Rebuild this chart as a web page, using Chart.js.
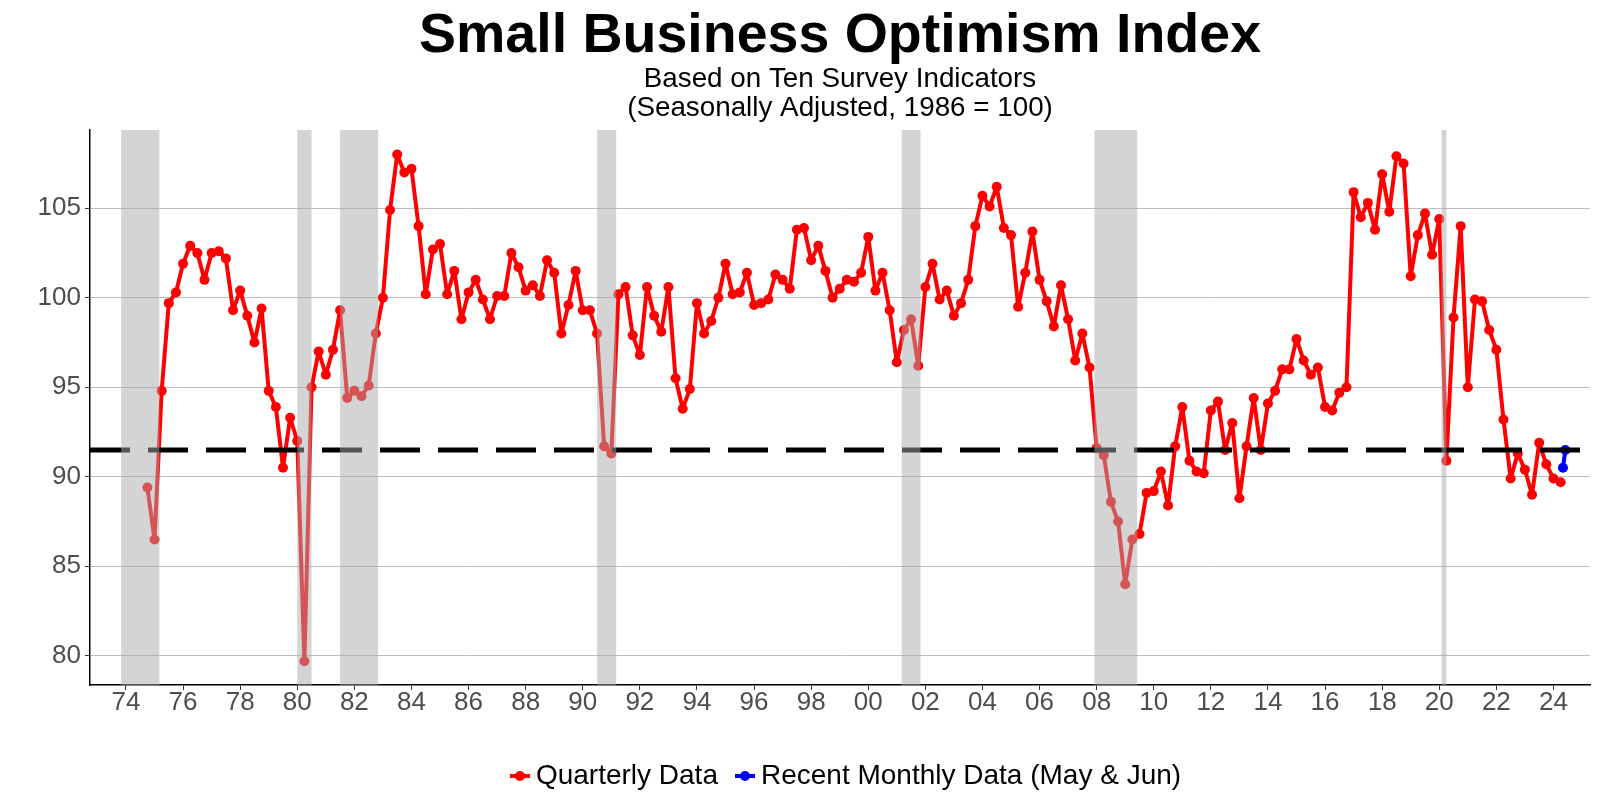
<!DOCTYPE html>
<html>
<head>
<meta charset="utf-8">
<title>Small Business Optimism Index</title>
<script src="https://cdn.jsdelivr.net/npm/chart.js@4.4.1/dist/chart.umd.min.js"></script>
<style>
    html, body { margin: 0; padding: 0; background: #fff; }
</style>
</head>
<body>
<canvas id="optimism-chart" width="1600" height="800"></canvas>
<script>
// Quarterly index readings, first one is 1974 Q4
const firstQuarter = 1974.75;
const q1970s = [89.4, 86.5, 94.8, 99.7, 100.3, 101.9, 102.9, 102.5, 101.0, 102.5, 102.6, 102.2, 99.3,
    100.4, 99.0, 97.5, 99.4, 94.8, 93.9, 90.5, 93.3];
const q1980s = [92.0, 79.7, 95.0, 97.0, 95.7, 97.1, 99.3, 94.4, 94.8, 94.5, 95.1, 98.0,
    100.0, 104.9, 108.0, 107.0, 107.2, 104.0, 100.2, 102.7, 103.0, 100.2, 101.5, 98.8,
    100.3, 101.0, 99.9, 98.8, 100.1, 100.1, 102.5, 101.7, 100.4, 100.7, 100.1, 102.1,
    101.4, 98.0, 99.6, 101.5];
const q1990s = [99.3, 99.3, 98.0, 91.7, 91.3, 100.2, 100.6, 97.9, 96.8, 100.6, 99.0, 98.1,
    100.6, 95.5, 93.8, 94.9, 99.7, 98.0, 98.7, 100.0, 101.9, 100.2, 100.3, 101.4,
    99.6, 99.7, 99.9, 101.3, 101.0, 100.5, 103.8, 103.9, 102.1, 102.9, 101.5, 100.0,
    100.5, 101.0, 100.9, 101.4];
const q2000s = [103.4, 100.4, 101.4, 99.3, 96.4, 98.2, 98.8, 96.2, 100.6, 101.9, 99.9, 100.4,
    99.0, 99.7, 101.0, 104.0, 105.7, 105.1, 106.2, 103.9, 103.5, 99.5, 101.4, 103.7,
    101.0, 99.8, 98.4, 100.7, 98.8, 96.5, 98.0, 96.1, 91.6, 91.2, 88.6, 87.5,
    84.0, 86.5, 86.8, 89.1];
const q2010s = [89.2, 90.3, 88.4, 91.7, 93.9, 90.9, 90.3, 90.2, 93.7, 94.2, 91.5, 93.0,
    88.8, 91.7, 94.4, 91.5, 94.1, 94.8, 96.0, 96.0, 97.7, 96.5, 95.7, 96.1,
    93.9, 93.7, 94.7, 95.0, 105.9, 104.5, 105.3, 103.8, 106.9, 104.8, 107.9, 107.5,
    101.2, 103.5, 104.7, 102.4];
const q2020s = [104.4, 90.9, 98.9, 104.0, 95.0, 99.9, 99.8, 98.2, 97.1, 93.2, 89.9, 91.3,
    90.4, 89.0, 91.9, 90.7, 89.9, 89.7];

// Recent monthly readings (May & Jun 2024)
const monthlyDates = [2024 + 4 / 12, 2024 + 5 / 12];
const monthlyValues = [90.5, 91.5];

// Long run reference line
const avgLevel = 91.5;

// NBER recessions (start, end) as decimal years
const recessions = [
    [1973.83, 1975.17],
    [1980.0, 1980.5],
    [1981.5, 1982.83],
    [1990.5, 1991.17],
    [2001.17, 2001.83],
    [2007.92, 2009.42],
    [2020.08, 2020.25],
];

const xTicks = [];
for (let yr = 1974; yr <= 2024; yr += 2) xTicks.push(yr);
const yTicks = [80, 85, 90, 95, 100, 105];
const xRange = [1972.74, 2025.28];
const yRange = [78.37, 109.37];

const quarterlyValues = [...q1970s, ...q1980s, ...q1990s, ...q2000s, ...q2010s, ...q2020s];
const quarterlyPoints = quarterlyValues.map((v, i) => ({ x: firstQuarter + i * 0.25, y: v }));
const monthlyPoints = monthlyValues.map((v, i) => ({ x: monthlyDates[i], y: v }));

// legend key: short line with a dot, like ggplot.
// the image is wider than its legend box so the key sits close to its text
function legendGlyph(color) {
    const c = document.createElement('canvas');
    c.width = 45;
    c.height = 14;
    const g = c.getContext('2d');
    g.strokeStyle = color;
    g.lineWidth = 4;
    g.beginPath();
    g.moveTo(22, 7);
    g.lineTo(42, 7);
    g.stroke();
    g.fillStyle = color;
    g.beginPath();
    g.arc(32, 7, 5, 0, Math.PI * 2);
    g.fill();
    return c;
}

// grey recession bars, painted over the lines
const recessionBands = {
    id: 'recessionBands',
    afterDatasetsDraw(chart) {
        const { ctx, chartArea, scales } = chart;
        ctx.save();
        ctx.fillStyle = 'rgba(170, 170, 170, 0.5)';
        recessions.forEach(([start, end]) => {
            const x0 = scales.x.getPixelForValue(start);
            const x1 = scales.x.getPixelForValue(end);
            ctx.fillRect(x0, chartArea.top, x1 - x0, chartArea.bottom - chartArea.top);
        });
        ctx.restore();
    }
};

const fontFamily = '"Liberation Sans", Arial, sans-serif';
const tickFont = { family: fontFamily, size: 26 };

new Chart(document.getElementById('optimism-chart'), {
    type: 'line',
    data: {
        datasets: [
            {
                label: 'Quarterly Data',
                data: quarterlyPoints,
                borderColor: '#ff0000',
                backgroundColor: '#ff0000',
                borderWidth: 4,
                borderJoinStyle: 'round',
                borderCapStyle: 'round',
                pointRadius: 5,
                pointBorderWidth: 0,
                order: 2,
            },
            {
                label: 'Recent Monthly Data (May & Jun)',
                data: monthlyPoints,
                borderColor: '#0000ff',
                backgroundColor: '#0000ff',
                borderWidth: 4,
                borderJoinStyle: 'round',
                borderCapStyle: 'round',
                pointRadius: 5,
                pointBorderWidth: 0,
                order: 1,
            },
            {
                label: 'avg',
                data: [{ x: xRange[0], y: avgLevel }, { x: xRange[1], y: avgLevel }],
                borderColor: '#000000',
                borderWidth: 5,
                borderDash: [40, 18],
                pointRadius: 0,
                order: 0,
            },
        ]
    },
    options: {
        responsive: false,
        animation: false,
        events: [],
        layout: { padding: { top: 0, right: 10, bottom: 0, left: 0 } },
        scales: {
            x: {
                type: 'linear',
                min: xRange[0],
                max: xRange[1],
                afterBuildTicks: axis => { axis.ticks = xTicks.map(v => ({ value: v })); },
                afterFit: axis => { axis.height = 71; },
                ticks: {
                    color: '#4d4d4d',
                    font: tickFont,
                    padding: -3,
                    maxRotation: 0,
                    autoSkip: false,
                    callback: v => String(v % 100).padStart(2, '0'),
                },
                grid: { drawOnChartArea: false, tickLength: 5, tickColor: '#333', tickWidth: 1 },
                border: { color: '#000', width: 1.5 },
            },
            y: {
                min: yRange[0],
                max: yRange[1],
                afterBuildTicks: axis => { axis.ticks = yTicks.map(v => ({ value: v })); },
                afterFit: axis => { axis.width = 90; },
                ticks: { color: '#4d4d4d', font: tickFont, padding: 4 },
                grid: { color: '#bdbdbd', lineWidth: 1, tickLength: 5, tickColor: '#333' },
                border: { color: '#000', width: 1.5 },
            },
        },
        plugins: {
            title: {
                display: true,
                text: 'Small Business Optimism Index',
                fullSize: false,
                color: '#000',
                font: { family: fontFamily, size: 55.5, weight: 'bold', lineHeight: 1.1 },
                padding: { top: 6, bottom: -3 },
            },
            subtitle: {
                display: true,
                text: ['Based on Ten Survey Indicators', '(Seasonally Adjusted, 1986 = 100)'],
                fullSize: false,
                color: '#000',
                font: { family: fontFamily, size: 27.8, lineHeight: 1.065 },
                padding: { top: 0, bottom: 6.75 },
            },
            legend: {
                position: 'bottom',
                fullSize: false,
                labels: {
                    usePointStyle: true,
                    pointStyleWidth: 23,
                    padding: 6,
                    color: '#000',
                    font: { family: fontFamily, size: 28 },
                    filter: item => item.text !== 'avg',
                    sort: (a, b) => a.datasetIndex - b.datasetIndex,
                    generateLabels: chart => {
                        const items = Chart.defaults.plugins.legend.labels.generateLabels(chart);
                        items.forEach(item => {
                            item.pointStyle = legendGlyph(item.strokeStyle);
                        });
                        return items;
                    },
                },
            },
            tooltip: { enabled: false },
        },
    },
    plugins: [recessionBands],
});
</script>
</body>
</html>
